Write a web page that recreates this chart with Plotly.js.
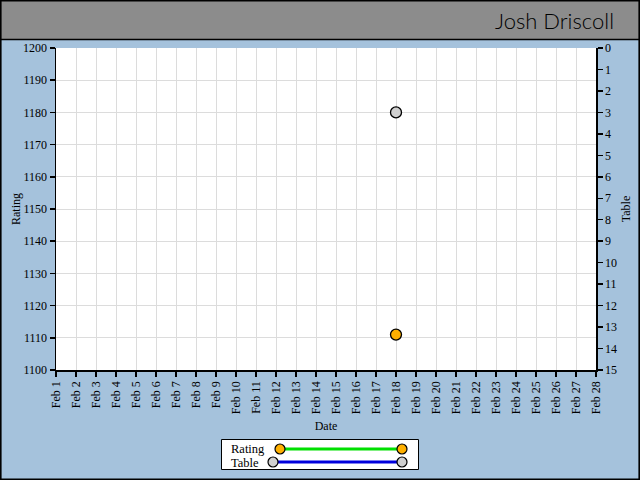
<!DOCTYPE html>
<html>
<head>
<meta charset="utf-8">
<script src="https://cdn.plot.ly/plotly-3.0.1.min.js"></script>
<style>
html,body{margin:0;padding:0;background:#a5c2dc;}
#chart{width:640px;height:480px;}
</style>
</head>
<body>
<div id="chart"></div>
<script>
// ---- data ----
const dates = ['Feb 1','Feb 2','Feb 3','Feb 4','Feb 5','Feb 6','Feb 7','Feb 8','Feb 9','Feb 10',
  'Feb 11','Feb 12','Feb 13','Feb 14','Feb 15','Feb 16','Feb 17','Feb 18','Feb 19','Feb 20',
  'Feb 21','Feb 22','Feb 23','Feb 24','Feb 25','Feb 26','Feb 27','Feb 28'];
const pointDates = ['Feb 18'];
const ratingValues = [1111];
const tableValues = [3];
const seriesNames = ['Rating', 'Table'];
const chartTitle = 'Josh Driscoll';

// ---- layout helpers (pixel -> paper) ----
const L = 56, R = 596, T = 48, B = 370;
const px = v => (v - L) / (R - L);
const py = v => (B - v) / (B - T);

const serif = 'Liberation Serif, DejaVu Serif, serif';
const orange = '#ffb000', grey = '#d0d0d0', green = '#00e000', blue = '#0000dd';

const traces = [
  {x: pointDates, y: ratingValues, name: seriesNames[0], type: 'scatter', mode: 'lines+markers',
   line: {color: green, width: 3},
   marker: {color: orange, size: 11, line: {color: '#000', width: 1.3}}, yaxis: 'y', showlegend: false},
  {x: pointDates, y: tableValues, name: seriesNames[1], type: 'scatter', mode: 'lines+markers',
   line: {color: blue, width: 3},
   marker: {color: grey, size: 11, line: {color: '#000', width: 1.3}}, yaxis: 'y2', showlegend: false}
];

const shapes = [
  // header band
  {type:'rect', xref:'paper', yref:'paper', x0:px(0), x1:px(640), y0:py(39.5), y1:py(0),
   fillcolor:'#8c8c8c', line:{color:'#000', width:1.5}, layer:'below'},
  // outer border
  {type:'rect', xref:'paper', yref:'paper', x0:px(0.8), x1:px(639.2), y0:py(479.2), y1:py(0.8),
   fillcolor:'rgba(0,0,0,0)', line:{color:'#000', width:1.6}},
  // legend box
  {type:'rect', xref:'paper', yref:'paper', x0:px(221.5), x1:px(418.5), y0:py(469.5), y1:py(439.5),
   fillcolor:'#fff', line:{color:'#000', width:1}},
  // legend lines
  {type:'line', xref:'paper', yref:'paper', x0:px(280), x1:px(402), y0:py(449), y1:py(449),
   line:{color:green, width:3}},
  {type:'line', xref:'paper', yref:'paper', x0:px(273), x1:px(402), y0:py(462), y1:py(462),
   line:{color:blue, width:3}}
];
// legend markers
[[280,449,orange],[402,449,orange],[273,462,grey],[402,462,grey]].forEach(([cx,cy,c])=>{
  shapes.push({type:'circle', xref:'paper', yref:'paper', x0:px(cx-5), x1:px(cx+5), y0:py(cy+5), y1:py(cy-5),
    fillcolor:c, line:{color:'#000', width:1.2}});
});

const annotations = [
  {xref:'paper', yref:'paper', x:px(229), y:py(448.5), text:seriesNames[0], showarrow:false,
   xanchor:'left', yanchor:'middle', font:{family:serif, size:12.5, color:'#000'}},
  {xref:'paper', yref:'paper', x:px(229), y:py(462.5), text:seriesNames[1], showarrow:false,
   xanchor:'left', yanchor:'middle', font:{family:serif, size:12.5, color:'#000'}}
];

const layout = {
  width: 640, height: 480,
  margin: {l: L, r: 640 - R, t: T, b: 480 - B, pad: 0},
  paper_bgcolor: '#a5c2dc',
  plot_bgcolor: '#ffffff',
  showlegend: false,
  title: {text: chartTitle, x: 614/640, xanchor: 'right', xref: 'container',
          y: 1 - 21/480, yanchor: 'middle', yref: 'container',
          font: {family: 'Lato, Open Sans, sans-serif', size: 22, color: '#000', weight: 300}},
  xaxis: {
    type: 'category', categoryorder: 'array', categoryarray: dates, tickvals: dates,
    range: [0, dates.length - 1], tickangle: -90,
    showgrid: true, gridcolor: '#dcdcdc', gridwidth: 1,
    showline: true, linecolor: '#000', linewidth: 1.5,
    ticks: 'outside', ticklen: 5, tickcolor: '#000', tickwidth: 1.5,
    tickfont: {family: serif, size: 12, color: '#000'},
    title: {text: 'Date', font: {family: serif, size: 12, color: '#000'}, standoff: 8},
    zeroline: false, fixedrange: true
  },
  yaxis: {
    range: [1100, 1200], dtick: 10, tick0: 1100,
    showgrid: true, gridcolor: '#dcdcdc', gridwidth: 1,
    showline: true, linecolor: '#000', linewidth: 1.5,
    ticks: 'outside', ticklen: 5, tickcolor: '#000', tickwidth: 1.5,
    tickfont: {family: serif, size: 12, color: '#000'},
    title: {text: 'Rating', font: {family: serif, size: 12, color: '#000'}, standoff: 0},
    zeroline: false
  },
  yaxis2: {
    overlaying: 'y', side: 'right', range: [15, 0], dtick: 1, tick0: 0,
    showgrid: false, showline: true, linecolor: '#000', linewidth: 1.5,
    ticks: 'outside', ticklen: 5, tickcolor: '#000', tickwidth: 1.5,
    tickfont: {family: serif, size: 12, color: '#000'},
    title: {text: 'Table', font: {family: serif, size: 12, color: '#000'}, standoff: 5},
    zeroline: false
  },
  shapes: shapes,
  annotations: annotations
};

Plotly.newPlot('chart', traces, layout, {displayModeBar: false, staticPlot: true});
</script>
</body>
</html>
